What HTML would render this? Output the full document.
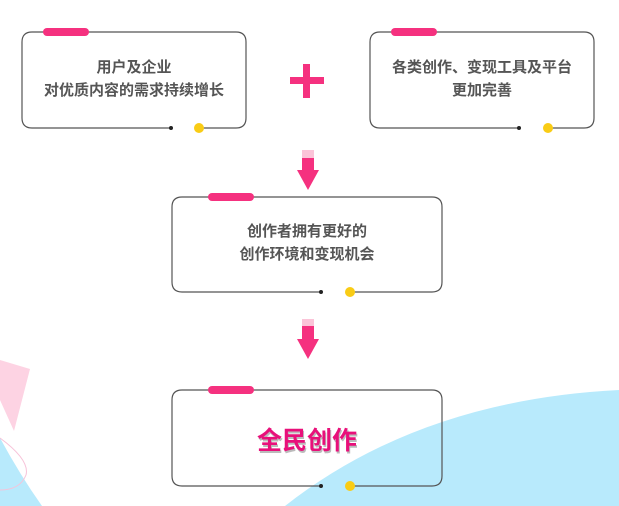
<!DOCTYPE html>
<html><head><meta charset="utf-8"><style>
body{margin:0;width:619px;height:506px;overflow:hidden;background:#fff;position:relative;font-family:"Liberation Sans","Noto Sans CJK SC",sans-serif}
svg{position:absolute;left:0;top:0}
.t{position:absolute;text-align:center;color:#555;font-weight:bold;font-size:15px;line-height:23px}
</style></head><body>
<svg width="619" height="506">
<path d="M285,506 Q420,400 619,390 L619,506 Z" fill="#b8eafc"/>
<path d="M0,438 Q20,475 42,506 L0,506 Z" fill="#b8eafc"/>
<path d="M0,360 L30,369 L14,431 L0,400 Z" fill="#fdd3e3"/>
<path d="M0,438 Q30,460 26,475 Q20,490 0,490" fill="none" stroke="#f7c2d8" stroke-width="1"/>
<g fill="none" stroke="#555" stroke-width="1.2">
<path d="M171,128 H32 Q22,128 22,118 V42 Q22,32 32,32 H236 Q246,32 246,42 V118 Q246,128 236,128 H199"/>
<path d="M519,128 H380 Q370,128 370,118 V42 Q370,32 380,32 H584 Q594,32 594,42 V118 Q594,128 584,128 H548"/>
<path d="M321,292 H182 Q172,292 172,282 V207 Q172,197 182,197 H432 Q442,197 442,207 V282 Q442,292 432,292 H350"/>
<path d="M321,486 H182 Q172,486 172,476 V400 Q172,390 182,390 H432 Q442,390 442,400 V476 Q442,486 432,486 H350"/>
</g>
<g fill="#f5317f">
<rect x="43" y="28" width="46" height="8" rx="4"/>
<rect x="391" y="28" width="46" height="8" rx="4"/>
<rect x="208" y="193" width="46" height="8" rx="4"/>
<rect x="208" y="386" width="46" height="8" rx="4"/>
<rect x="290" y="77" width="34" height="7"/>
<rect x="303" y="64" width="7" height="34"/>
<rect x="302" y="158" width="12" height="12"/>
<path d="M297,170 H319 L308,190 Z"/>
<rect x="302" y="326" width="12" height="13"/>
<path d="M297,339 H319 L308,359 Z"/>
</g>
<g fill="#fbc4d8"><rect x="302" y="150" width="12" height="8"/><rect x="302" y="319" width="12" height="7"/></g>
<g fill="#222"><circle cx="171" cy="128" r="2"/><circle cx="519" cy="128" r="2"/><circle cx="321" cy="292" r="2"/><circle cx="321" cy="486" r="2"/></g>
<g fill="#f9cc15"><circle cx="199" cy="128" r="5"/><circle cx="548" cy="128" r="5"/><circle cx="350" cy="292" r="5"/><circle cx="350" cy="486" r="5"/></g>
</svg>
<div class="t" style="left:22px;top:56px;width:224px">用户及企业<br>对优质内容的需求持续增长</div>
<div class="t" style="left:370px;top:56px;width:224px">各类创作、变现工具及平台<br>更加完善</div>
<div class="t" style="left:172px;top:220px;width:270px">创作者拥有更好的<br>创作环境和变现机会</div>
<div class="t" style="left:172px;top:426px;width:270px;font-size:25px;line-height:30px;color:#e8107a;text-shadow:1px 2px 0 #bbb">全民创作</div>
</body></html>
